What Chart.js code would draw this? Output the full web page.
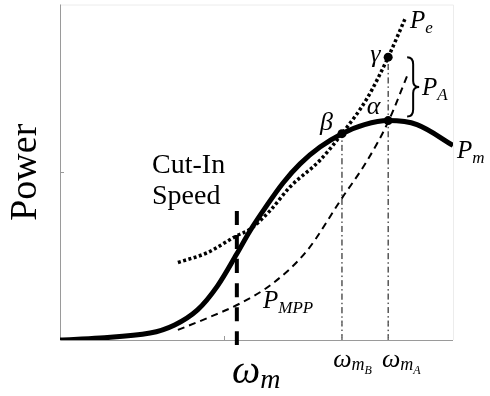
<!DOCTYPE html>
<html>
<head>
<meta charset="utf-8">
<script src="https://cdn.jsdelivr.net/npm/chart.js@4.4.0/dist/chart.umd.min.js"></script>
<style>
  html, body { margin: 0; padding: 0; background: #fff; }
  canvas { display: block; }
</style>
</head>
<body>
<canvas id="chart" width="490" height="396"></canvas>
<script>
// mechanical power curve P_m
const pmSpeed = [0, 1.22, 2.75, 3.5, 4.2, 4.8, 5.4, 5.8, 6.26, 6.81, 7.33, 7.94, 8.61, 9.3, 10.02, 10.9, 12]
const pmPower = [0, 0.06, 0.21, 0.45, 0.9, 1.6, 2.57, 3.25, 3.93, 4.68, 5.25, 5.75, 6.15, 6.42, 6.54, 6.42, 5.8]

// electrical power curve P_e
const peSpeed = [3.6, 4.49, 5.4, 5.8, 6.41, 7.02, 7.94, 8.61, 9.37, 10.02, 10.53]
const pePower = [2.31, 2.6, 3.11, 3.3, 3.85, 4.56, 5.36, 6.15, 7.19, 8.43, 9.56]

// maximum power point curve P_MPP
const mppSpeed = [3.6, 4.49, 5.5, 6.5, 7.54, 8.61, 9.37, 10.02, 10.6]
const mppPower = [0.3, 0.65, 1.09, 1.69, 2.66, 4.23, 5.33, 6.5, 7.87]

const cutInSpeed = 5.4
const speedB = 8.61
const speedA = 10.02
const powerBeta = 6.15
const powerAlpha = 6.54
const powerGamma = 8.43

const xTicks = [5]
const yTicks = [5]

const toPoints = (xs, ys) => xs.map((x, i) => ({ x: x, y: ys[i] }))

const serif = '"Liberation Serif", "DejaVu Serif", serif'

// text labels, anchored in data units
const mathLabels = [
  { x: 10.69, y: 9.29, parts: [["P", 25, 0], ["e", 17, 5]] },
  { x: 11.05, y: 7.31, parts: [["P", 25, 0], ["A", 17, 5]] },
  { x: 12.12, y: 5.41, parts: [["P", 25, 0], ["m", 17, 5]] },
  { x: 6.2, y: 0.95, parts: [["P", 25, 0], ["MPP", 17, 5]] },
  { x: 7.94, y: 6.27, parts: [["β", 26, 0]] },
  { x: 9.37, y: 6.75, parts: [["α", 26, 0]] },
  { x: 9.47, y: 8.28, parts: [["γ", 26, 0]] },
  { x: 5.25, y: -1.27, parts: [["ω", 40, 0], ["m", 28, 5]] },
  { x: 8.34, y: -0.8, parts: [["ω", 26, 0], ["m", 18, 3], ["B", 12, 7]] },
  { x: 9.83, y: -0.8, parts: [["ω", 26, 0], ["m", 18, 3], ["A", 12, 7]] },
]

const plainLabels = [
  { x: 2.81, y: 4.97, text: "Cut-In" },
  { x: 2.81, y: 4.05, text: "Speed" },
]

const drawMath = (ctx, x, y, parts) => {
  let cx = x
  parts.forEach(([text, size, dy]) => {
    ctx.font = `italic ${size}px ${serif}`
    ctx.fillText(text, cx, y + dy)
    cx += ctx.measureText(text).width
  })
}

const framePlugin = {
  id: "frame",
  beforeDatasetsDraw(chart) {
    const { ctx, chartArea: a, scales: { x, y } } = chart
    ctx.save()
    ctx.lineWidth = 1
    ctx.strokeStyle = "#ececec"
    ctx.beginPath()
    ctx.moveTo(a.left, a.top + 0.5)
    ctx.lineTo(a.right + 0.5, a.top + 0.5)
    ctx.lineTo(a.right + 0.5, a.bottom)
    ctx.stroke()

    ctx.strokeStyle = "#9a9a9a"
    ctx.beginPath()
    ctx.moveTo(a.left + 0.5, a.top)
    ctx.lineTo(a.left + 0.5, a.bottom + 0.5)
    ctx.lineTo(a.right, a.bottom + 0.5)
    xTicks.forEach(v => {
      const px = Math.round(x.getPixelForValue(v)) + 0.5
      ctx.moveTo(px, a.bottom)
      ctx.lineTo(px, a.bottom - 4)
    })
    yTicks.forEach(v => {
      const py = Math.round(y.getPixelForValue(v)) + 0.5
      ctx.moveTo(a.left, py)
      ctx.lineTo(a.left + 4, py)
    })
    ctx.stroke()
    ctx.restore()
  },
  afterDatasetsDraw(chart) {
    const { ctx, chartArea: a, scales: { x, y } } = chart
    ctx.save()
    ctx.fillStyle = "#000"
    ctx.textBaseline = "alphabetic"
    ctx.textAlign = "left"

    mathLabels.forEach(l => drawMath(ctx, x.getPixelForValue(l.x), y.getPixelForValue(l.y), l.parts))

    ctx.font = `28px ${serif}`
    plainLabels.forEach(l => ctx.fillText(l.text, x.getPixelForValue(l.x), y.getPixelForValue(l.y)))

    // axis title
    ctx.save()
    ctx.translate(36, (a.top + a.bottom) / 2)
    ctx.rotate(-Math.PI / 2)
    ctx.textAlign = "center"
    ctx.font = `38px ${serif}`
    ctx.fillText("Power", 0, 0)
    ctx.restore()

    // brace for P_A between gamma and alpha
    const bx = x.getPixelForValue(speedA) + 19
    const top = y.getPixelForValue(powerGamma)
    const bot = y.getPixelForValue(powerAlpha) - 4
    const mid = (top + bot) / 2
    ctx.lineWidth = 2
    ctx.strokeStyle = "#000"
    ctx.beginPath()
    ctx.moveTo(bx, top)
    ctx.quadraticCurveTo(bx + 6, top, bx + 6, top + 7)
    ctx.lineTo(bx + 6, mid - 6)
    ctx.quadraticCurveTo(bx + 6, mid, bx + 12, mid)
    ctx.quadraticCurveTo(bx + 6, mid, bx + 6, mid + 6)
    ctx.lineTo(bx + 6, bot - 7)
    ctx.quadraticCurveTo(bx + 6, bot, bx, bot)
    ctx.stroke()
    ctx.restore()
  },
}

const lineSet = (data, width, dash) => ({
  data: data,
  borderColor: "#000",
  borderWidth: width,
  borderDash: dash,
  borderCapStyle: "butt",
  borderJoinStyle: "round",
  pointRadius: 0,
  fill: false,
  cubicInterpolationMode: "monotone",
})

new Chart(document.getElementById("chart"), {
  type: "line",
  data: {
    datasets: [
      lineSet([{ x: speedB, y: 0 }, { x: speedB, y: powerBeta }], 1, [6, 3, 1.5, 3]),
      lineSet([{ x: speedA, y: 0 }, { x: speedA, y: powerGamma }], 1, [6, 3, 1.5, 3]),
      lineSet(toPoints(mppSpeed, mppPower), 2, [7, 5]),
      lineSet(toPoints(peSpeed, pePower), 3.5, [3, 2.5]),
      { ...lineSet([{ x: cutInSpeed, y: -0.15 }, { x: cutInSpeed, y: 4.05 }], 4, [14, 10]), clip: false },
      { ...lineSet(toPoints(pmSpeed, pmPower), 5, []), cubicInterpolationMode: "default", tension: 0.35 },
      {
        data: [{ x: speedB, y: powerBeta }, { x: speedA, y: powerAlpha }, { x: speedA, y: powerGamma }],
        showLine: false,
        pointRadius: 4.5,
        pointBackgroundColor: "#000",
        pointBorderWidth: 0,
      },
    ],
  },
  options: {
    responsive: false,
    devicePixelRatio: 1,
    animation: false,
    layout: { padding: { left: 60, right: 37, top: 2, bottom: 56 } },
    scales: {
      x: { type: "linear", min: 0, max: 12, display: false },
      y: { type: "linear", min: 0, max: 10, display: false },
    },
    plugins: {
      legend: { display: false },
      tooltip: { enabled: false },
    },
  },
  plugins: [framePlugin],
})
</script>
</body>
</html>
